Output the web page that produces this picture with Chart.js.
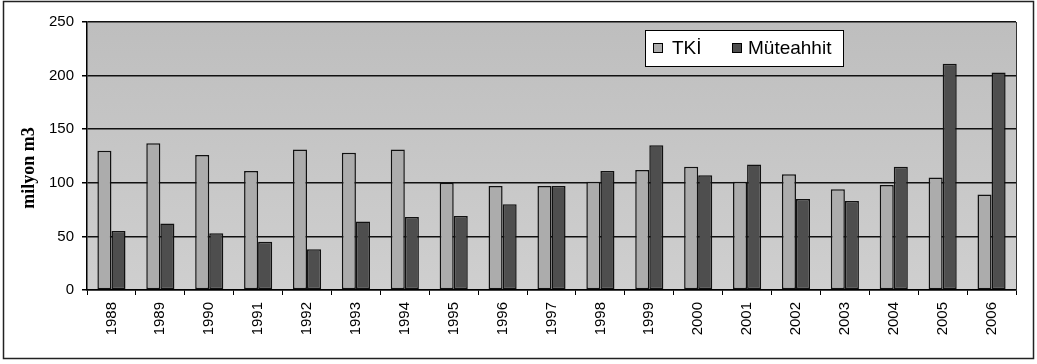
<!DOCTYPE html>
<html>
<head>
<meta charset="utf-8">
<script src="https://cdn.jsdelivr.net/npm/chart.js@4/dist/chart.umd.min.js"></script>
<style>
  html, body { margin: 0; padding: 0; background: #ffffff; }
  #wrap { position: relative; width: 1037px; height: 364px; }
</style>
</head>
<body>
<div id="wrap"><canvas id="c" width="1037" height="364"></canvas></div>
<script>
// Yearly production, million m3
const years = ['1988','1989','1990','1991','1992','1993','1994','1995','1996','1997',
               '1998','1999','2000','2001','2002','2003','2004','2005','2006'];
const tkiValues       = [130, 137, 126, 111, 131, 128, 131, 100, 97, 97, 101, 112, 115, 101, 108, 94, 98, 105, 89];
const muteahhitValues = [ 55,  62,  53,  45,  38,  64,  68,  69, 80, 97, 111, 135, 107, 117,  85, 83, 115, 211, 203];
const seriesNames = ['TKİ', 'Müteahhit'];
const yTickValues = [0, 50, 100, 150, 200, 250];
const yAxisTitle = 'milyon m3';

const seriesColors = ['#acacac', '#4e4e4e'];

// Outer frame, plot fill, plot border, axis title and boxed legend
const decorPlugin = {
  id: 'decor',
  beforeDraw(chart) {
    const { ctx, chartArea: a } = chart;
    ctx.save();
    ctx.fillStyle = '#ffffff';
    ctx.fillRect(0, 0, chart.width, chart.height);
    const g = ctx.createLinearGradient(0, a.top, 0, a.bottom);
    g.addColorStop(0, '#bebebe');
    g.addColorStop(1, '#cfcfcf');
    ctx.fillStyle = g;
    ctx.fillRect(a.left, a.top, a.right - a.left, a.bottom - a.top);
    // chart frame
    ctx.strokeStyle = '#222';
    ctx.lineWidth = 1.5;
    ctx.strokeRect(3.5, 1.5, 1030, 357);
    ctx.restore();
  },
  afterDatasetsDraw(chart) {
    const { ctx, chartArea: a } = chart;
    ctx.save();
    // plot border
    ctx.strokeStyle = '#333';
    ctx.lineWidth = 1;
    ctx.beginPath();
    ctx.moveTo(Math.round(a.right) + 0.5, a.top);
    ctx.lineTo(Math.round(a.right) + 0.5, a.bottom);
    ctx.stroke();

    // axis title
    ctx.translate(29, 168);
    ctx.rotate(-Math.PI / 2);
    ctx.font = 'bold 18px "Liberation Serif", "Times New Roman", serif';
    ctx.fillStyle = '#000';
    ctx.textAlign = 'center';
    ctx.textBaseline = 'middle';
    ctx.fillText(yAxisTitle, 0, 0);
    ctx.restore();

    // legend box
    ctx.save();
    const bx = 645.5, by = 30.5, bw = 198, bh = 36;
    ctx.fillStyle = '#ffffff';
    ctx.fillRect(bx, by, bw, bh);
    ctx.strokeStyle = '#000';
    ctx.lineWidth = 1;
    ctx.strokeRect(bx, by, bw, bh);
    ctx.font = '19px "Liberation Sans", Arial, sans-serif';
    ctx.textBaseline = 'middle';
    ctx.textAlign = 'left';
    const items = [
      { mx: 653, tx: 672 },
      { mx: 732, tx: 748 }
    ];
    chart.data.datasets.forEach((ds, i) => {
      const it = items[i];
      ctx.fillStyle = ds.backgroundColor;
      ctx.fillRect(it.mx + 0.5, 43.5, 9, 9);
      ctx.strokeStyle = '#000';
      ctx.strokeRect(it.mx + 0.5, 43.5, 9, 9);
      ctx.fillStyle = '#000';
      ctx.fillText(ds.label, it.tx, 48.5);
    });
    ctx.restore();
  }
};

new Chart(document.getElementById('c'), {
  type: 'bar',
  data: {
    labels: years,
    datasets: [
      { label: seriesNames[0], data: tkiValues,       backgroundColor: seriesColors[0] },
      { label: seriesNames[1], data: muteahhitValues, backgroundColor: seriesColors[1] }
    ]
  },
  options: {
    responsive: false,
    animation: false,
    devicePixelRatio: 1,
    layout: { padding: { left: 0, top: 22, right: 21, bottom: 0 } },
    datasets: {
      bar: {
        categoryPercentage: 0.575,
        barPercentage: 1.0,
        borderColor: '#111',
        borderWidth: 1.5,
        borderSkipped: false
      }
    },
    plugins: {
      legend: { display: false },
      tooltip: { enabled: false }
    },
    scales: {
      x: {
        offset: true,
        grid: {
          offset: true,
          drawOnChartArea: false,
          drawTicks: true,
          tickLength: 5,
          tickColor: '#000'
        },
        border: { display: true, color: '#000', width: 1.5 },
        ticks: {
          minRotation: 90,
          maxRotation: 90,
          autoSkip: false,
          padding: 7,
          color: '#000',
          font: { family: '"Liberation Sans", Arial, sans-serif', size: 15 }
        },
        afterFit(s) { s.height = 74; }
      },
      y: {
        min: 0,
        max: 250,
        afterBuildTicks(s) { s.ticks = yTickValues.map(v => ({ value: v })); },
        grid: {
          color: '#111',
          lineWidth: 1.5,
          tickLength: 5,
          tickColor: '#000'
        },
        border: { display: true, color: '#000', width: 1.5 },
        ticks: {
          padding: 8,
          color: '#000',
          font: { family: '"Liberation Sans", Arial, sans-serif', size: 15 }
        },
        afterFit(s) { s.width = 87; }
      }
    }
  },
  plugins: [decorPlugin]
});
</script>
</body>
</html>
